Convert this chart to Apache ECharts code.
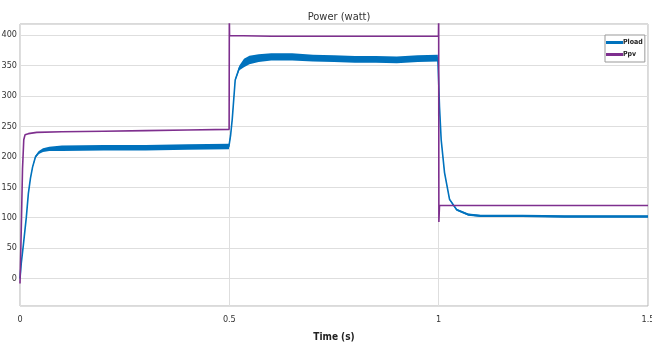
<!DOCTYPE html>
<html>
<head>
<meta charset="utf-8">
<script src="https://cdn.jsdelivr.net/npm/echarts@6/dist/echarts.min.js"></script>
<style>html,body{margin:0;padding:0;background:#fff}#c{width:652px;height:344px}</style>
</head>
<body>
<div id="c"></div>
<script>
// ---- data ----
const loadTime  = [0, 0.003, 0.008, 0.015, 0.02, 0.025, 0.03, 0.037, 0.045, 0.055, 0.07, 0.1, 0.2, 0.3, 0.4, 0.499, 0.503, 0.507, 0.514, 0.524, 0.535, 0.548, 0.57, 0.6, 0.65, 0.7, 0.75, 0.8, 0.85, 0.9, 0.95, 0.998, 1.002, 1.006, 1.014, 1.026, 1.043, 1.071, 1.1, 1.2, 1.3, 1.4, 1.5];
const loadPower = [0, 25, 55, 100, 140, 165, 183, 200, 207, 211, 213, 214, 215, 215, 216, 217, 235, 262, 326, 346, 354, 359, 362, 364, 364, 362, 361, 360, 360, 359, 361, 362, 282, 228, 174, 130, 113, 105, 103, 103, 102, 102, 102];
const loadNoise = [0.5, 0.5, 0.5, 0.5, 1, 1, 1.5, 2, 2.5, 3, 3.5, 4.5, 4.5, 4.5, 4.5, 4.5, 2, 2, 2, 4, 7, 7, 6.5, 6, 6, 5.5, 5.5, 5.5, 5.5, 5.5, 5.5, 5.5, 1.5, 1.5, 1.5, 1.5, 1.5, 2, 2, 2, 2, 2, 2];
const pvTime  = [0, 0.003, 0.006, 0.009, 0.012, 0.02, 0.04, 0.1, 0.2, 0.3, 0.4, 0.4995, 0.5, 0.5005, 0.505, 0.6, 0.7, 0.8, 0.9, 0.9995, 1.0, 1.0005, 1.002, 1.01, 1.1, 1.2, 1.3, 1.4, 1.5];
const pvPower = [-8, 80, 180, 228, 236, 238, 240, 241, 242, 243, 244, 245, 430, 399, 398, 398, 398, 398, 398, 398, 430, 93, 120, 120, 120, 120, 120, 120, 120];
const yTicks = [0, 50, 100, 150, 200, 250, 300, 350, 400];
const xTicks = [0, 0.5, 1, 1.5];

const FONT = "'Liberation Sans Narrow', 'DejaVu Sans Condensed', 'Liberation Sans', sans-serif";
const pair = (xs, ys) => xs.map((x, i) => [x, ys[i]]);

const chart = echarts.init(document.getElementById('c'), null, {renderer: 'canvas'});
chart.setOption({
  backgroundColor: '#ffffff',
  animation: false,
  title: {
    text: 'Power (watt)', left: 334, top: 7, textAlign: 'center',
    textStyle: {fontFamily: FONT, fontSize: 11, fontWeight: 'normal', color: '#333'}
  },
  legend: {
    data: ['Pload', 'Ppv'], orient: 'vertical', left: 605, top: 35,
    padding: [4, 2, 4, 1], itemGap: 5, itemWidth: 17, itemHeight: 3,
    backgroundColor: '#fff', borderColor: '#999', borderWidth: 1,
    icon: 'rect',
    textStyle: {fontFamily: FONT, fontSize: 7, fontWeight: 'bold', color: '#222', padding: [0,0,0,-5]}
  },
  grid: {left: 20, right: 4, top: 24, bottom: 38, show: true, borderColor: '#b4b4b4', borderWidth: 1,
         containLabel: false, outerBoundsMode: 'none'},
  xAxis: {
    type: 'value', min: 0, max: 1.5, interval: 0.5,
    name: 'Time (s)', nameLocation: 'middle', nameGap: 26,
    nameTextStyle: {fontFamily: FONT, fontSize: 10, fontWeight: 'bold', color: '#222'},
    axisLine: {show: false}, axisTick: {show: false},
    axisLabel: {fontFamily: FONT, fontSize: 9, color: '#333', margin: 9, formatter: v => xTicks.includes(v) ? String(v) : ''},
    splitLine: {show: true, lineStyle: {color: '#dedede', width: 1}}
  },
  yAxis: {
    type: 'value', min: -45, max: 418, minInterval: 50, maxInterval: 50,
    axisLine: {show: false}, axisTick: {show: false},
    axisLabel: {fontFamily: FONT, fontSize: 9, color: '#333', margin: 3,
      showMinLabel: false, showMaxLabel: false,
      formatter: v => yTicks.includes(v) ? String(v) : ''},
    splitLine: {show: true, lineStyle: {color: '#dedede', width: 1}}
  },
  series: [
    {name: 'band', type: 'custom', silent: true, z: 2, clip: true,
     data: [0],
     renderItem: function (params, api) {
       const upper = loadTime.map((t, i) => api.coord([t, loadPower[i] + loadNoise[i]]));
       const lower = loadTime.map((t, i) => api.coord([t, loadPower[i] - loadNoise[i]])).reverse();
       return {type: 'polygon', shape: {points: upper.concat(lower)}, style: {fill: '#0072BD'}};
     }},
    {name: 'Pload', type: 'line', data: pair(loadTime, loadPower), symbol: 'none',
     color: '#0072BD', lineStyle: {color: '#0072BD', width: 1.6}, z: 3},
    {name: 'Ppv', type: 'line', data: pair(pvTime, pvPower), symbol: 'none',
     color: '#7E2F8E', lineStyle: {color: '#7E2F8E', width: 1.6}, z: 4}
  ]
});
</script>
</body>
</html>
